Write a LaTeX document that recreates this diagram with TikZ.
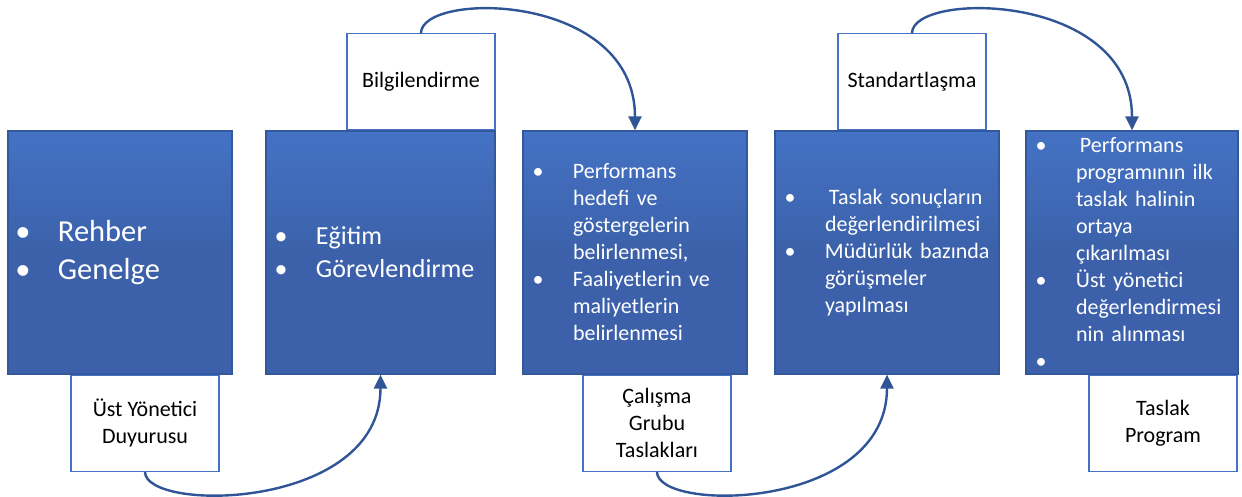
\documentclass[tikz,border=0pt]{standalone}
\usepackage{fontspec}
\setmainfont{Carlito}
\usetikzlibrary{positioning,arrows.meta}
\definecolor{stageTop}{RGB}{68,114,196}
\definecolor{stageBot}{RGB}{60,97,170}
\definecolor{stageEdge}{RGB}{52,88,158}
\definecolor{noteEdge}{RGB}{68,114,196}
\definecolor{flowBlue}{RGB}{47,85,151}
\newcommand{\stitem}[1]{\makebox[50pt][l]{\makebox[30pt]{\textbullet}}#1}
\newcommand{\stcont}[1]{\hspace*{50pt}#1}
\tikzstyle{stage}=[rectangle,
                   draw=stageEdge,
                   line width=1.2pt,
                   top color=stageTop,
                   bottom color=stageBot,
                   middle color=stageBot,
                   text=white,
                   align=left,
                   inner sep=0pt,
                   minimum height=243pt,
                   font={\fontsize{22}{27}\selectfont}
                  ]
\tikzstyle{note}=[rectangle,
                  draw=noteEdge,
                  line width=1.2pt,
                  fill=white,
                  align=center,
                  inner sep=0pt,
                  minimum width=148pt,
                  minimum height=96pt,
                  font={\fontsize{22}{27}\selectfont}
                 ]
\tikzstyle{flow}=[-{Triangle[width=13pt,length=14pt]},
                  draw=flowBlue,
                  line width=2.4pt
                 ]
\begin{document}
\begin{tikzpicture}[x=1pt,y=-1pt]
  \useasboundingbox (0,0) rectangle (1242,496);

  % Stages
  \node[stage, text width=224pt, font={\fontsize{30.5}{38}\selectfont}] (rehber) at (120,252.5)
    {\stitem{Rehber}\\ \stitem{Genelge}};
  \node[stage, text width=229pt, font={\fontsize{26}{33}\selectfont}] (egitim) at (380.5,252.5)
    {\stitem{Eğitim}\\ \stitem{Görevlendirme}};
  \node[stage, text width=224pt] (hedef) at (635,252.5)
    {\stitem{Performans}\\ \stcont{hedefi ve}\\ \stcont{göstergelerin}\\
     \stcont{belirlenmesi,}\\ \stitem{Faaliyetlerin ve}\\ \stcont{maliyetlerin}\\
     \stcont{belirlenmesi}};
  \node[stage, text width=224pt] (sonuc) at (887,252.5)
    {\stitem{\hspace{4pt}Taslak sonuçların}\\ \stcont{değerlendirilmesi}\\
     \stitem{Müdürlük bazında}\\ \stcont{görüşmeler}\\ \stcont{yapılması}};
  \node[stage, text width=212pt] (program) at (1132,252.5)
    {\stitem{\hspace{4pt}Performans}\\ \stcont{programının ilk}\\ \stcont{taslak halinin}\\
     \stcont{ortaya}\\ \stcont{çıkarılması}\\ \stitem{Üst yönetici}\\
     \stcont{değerlendirmesi}\\ \stcont{nin alınması}\\ \stitem{}};

  % Notes
  \node[note, anchor=north west] (duyuru) at ([xshift=63pt]rehber.south west)
    {Üst Yönetici\\ Duyurusu};
  \node[note, anchor=south east] (bilgi) at (egitim.north east) {Bilgilendirme};
  \node[note, anchor=north west] (taslak) at ([xshift=60pt]hedef.south west)
    {Çalışma\\ Grubu\\ Taslakları};
  \node[note, anchor=south east] (standart) at ([xshift=-13pt]sonuc.north east) {Standartlaşma};
  \node[note, anchor=north west] (tprog) at ([xshift=63pt]program.south west)
    {Taslak\\ Program};

  % Edges
  \draw[flow] (duyuru.south) .. controls +(0,41) and +(0,136) .. (egitim.south);
  \draw[flow] (bilgi.north) .. controls +(0,-42) and +(0,-139) .. (hedef.north);
  \draw[flow] (taslak.south) .. controls +(0,41) and +(0,136) .. (sonuc.south);
  \draw[flow] (standart.north) .. controls +(0,-42) and +(0,-139) .. (program.north);

\end{tikzpicture}
\end{document}
